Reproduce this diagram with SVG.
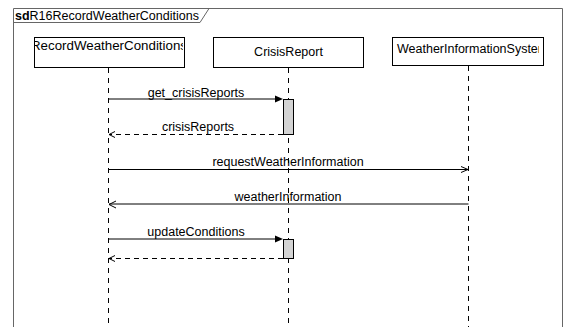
<svg xmlns="http://www.w3.org/2000/svg" width="564" height="327" viewBox="0 0 564 327">
<style>
text{font-family:"Liberation Sans",Arial,sans-serif;font-size:12.5px;fill:#000}
.box{fill:#fff;stroke:#000;stroke-width:1}
.life{stroke:#000;stroke-width:1;stroke-dasharray:5,5;fill:none}
.msg{stroke:#000;stroke-width:1;fill:none}
.ret{stroke:#000;stroke-width:1;stroke-dasharray:5,4;fill:none}
.act{fill:#d3d3d3;stroke:#000;stroke-width:1}
.open{stroke:#000;stroke-width:1;fill:none}
</style>
<defs>
<clipPath id="c1"><rect x="35" y="38" width="148" height="29"/></clipPath>
<clipPath id="c3"><rect x="393" y="38" width="146" height="27"/></clipPath>
</defs>
<rect x="0" y="0" width="564" height="327" fill="#fff"/>
<g id="frame">
<path d="M13.5,340 V8.5 H562.5 V340" fill="none" stroke="#666" stroke-width="1"/>
<path d="M13.5,22.5 H200 L209,8.5" fill="none" stroke="#666" stroke-width="1"/>
<text x="15" y="20"><tspan font-weight="bold">sd</tspan>R16RecordWeatherConditions</text>
</g>
<g id="lifeline-rwc">
<rect class="box" x="34.5" y="37.5" width="150" height="30"/>
<text x="109" y="50" text-anchor="middle" textLength="156" lengthAdjust="spacingAndGlyphs" clip-path="url(#c1)">RecordWeatherConditions</text>
<line class="life" x1="108.5" y1="68" x2="108.5" y2="327"/>
</g>
<g id="lifeline-crisis">
<rect class="box" x="213.5" y="37.5" width="150" height="30"/>
<text x="288.5" y="56" text-anchor="middle">CrisisReport</text>
<line class="life" x1="288.5" y1="68" x2="288.5" y2="327"/>
<rect class="act" x="283.5" y="99.5" width="10" height="35"/>
<rect class="act" x="283.5" y="239.5" width="10" height="19"/>
</g>
<g id="lifeline-weather">
<rect class="box" x="392.5" y="37.5" width="151" height="28"/>
<text x="397" y="53" clip-path="url(#c3)">WeatherInformationSystem</text>
<line class="life" x1="468.5" y1="66" x2="468.5" y2="327"/>
</g>
<g id="connectors">
<line class="msg" x1="108.5" y1="99" x2="276" y2="99" stroke-width="1.5" stroke="#555"/>
<path d="M275,95.5 L283,99 L275,102.5 Z" fill="#000"/>
<text x="196" y="97" text-anchor="middle">get_crisisReports</text>
<line class="ret" x1="283" y1="134.5" x2="109" y2="134.5"/>
<path class="open" d="M115,131.5 L109,134.5 L115,137.5"/>
<text x="198" y="131" text-anchor="middle">crisisReports</text>
<line class="msg" x1="108.5" y1="169.5" x2="468" y2="169.5"/>
<path class="open" d="M461,166.5 L468,169.5 L461,172.5"/>
<text x="288" y="166" text-anchor="middle">requestWeatherInformation</text>
<line class="msg" x1="468.5" y1="204" x2="109" y2="204" stroke-width="1.5" stroke="#555"/>
<path class="open" d="M116,201 L109,204.5 L116,208"/>
<text x="288" y="201" text-anchor="middle">weatherInformation</text>
<line class="msg" x1="108.5" y1="239" x2="276" y2="239" stroke-width="1.5" stroke="#555"/>
<path d="M275,235.5 L283,239 L275,242.5 Z" fill="#000"/>
<text x="196" y="236" text-anchor="middle">updateConditions</text>
<line class="ret" x1="283" y1="258.5" x2="109" y2="258.5"/>
<path class="open" d="M115,255.5 L109,258.5 L115,261.5"/>
</g>
</svg>
